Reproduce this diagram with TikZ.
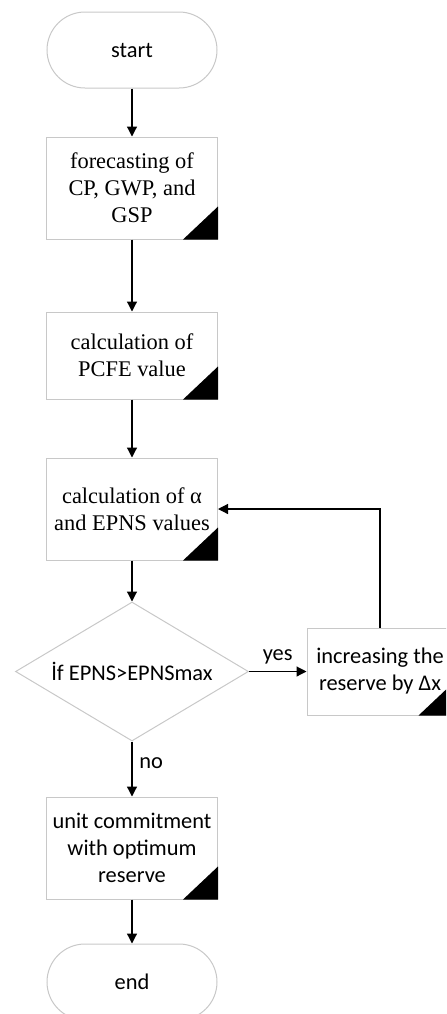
\documentclass[tikz,border=0pt]{standalone}
\usepackage{fontspec}
\setmainfont{Carlito}
\newfontfamily\serifbox{Liberation Serif}
\usepackage{tikz}
\usetikzlibrary{arrows.meta, shapes.geometric}
\definecolor{flow_edge}{RGB}{200, 200, 200}
\newcommand{\flowsans}{\fontsize{11.2}{13.5}\selectfont}
\newcommand{\flowserif}{\serifbox\fontsize{11.2}{13.5}\selectfont}

\begin{document}
\begin{tikzpicture}[x=0.5pt, y=-0.5pt,
    termbox/.style={draw=flow_edge, line width=0.5pt, rounded corners=19pt,
      minimum width=85pt, minimum height=38pt, inner sep=0pt, font=\flowsans},
    procbox/.style={draw=flow_edge, line width=0.5pt, minimum width=85.5pt,
      minimum height=51pt, inner sep=2pt, align=center, font=\flowserif},
    decision/.style={draw=flow_edge, line width=0.5pt, diamond, aspect=1.68,
      minimum width=116.5pt, minimum height=69.5pt, inner sep=0pt, font=\flowsans},
    flowarrow/.style={-{Triangle[length=5pt, width=5pt]}, line width=0.6pt, black}]
        \path[use as bounding box, clip] (0,0) rectangle (446,1014);

        % --- Main column ---
        \node[termbox] (start) at (132,50) {start};
        \node[procbox] (fore) at (132,188)
          {forecasting of\\CP, GWP, and\\GSP};
        \node[procbox, minimum height=43.5pt] (pcfe) at (132,355.5)
          {calculation of\\PCFE value};
        \node[procbox] (epns) at (132,509)
          {calculation of α\\and EPNS values};
        \node[decision] (check) at (132,671.5) {İf EPNS>EPNSmax};
        \node[procbox, font=\flowsans] (unit) at (132,848)
          {unit commitment\\with optimum\\reserve};
        \node[termbox] (end) at (132,982) {end};

        % --- Reserve loop ---
        \node[procbox, font=\flowsans, minimum width=73pt, minimum height=43.5pt]
          (incr) at (380,671.5) {increasing the\\reserve by Δx};

        % black corner marks
        \foreach \b in {fore,pcfe,epns,incr,unit} {
          \fill[black] (\b.south east) -- ++(-35,0) -- ++(35,-33) -- cycle;
        }

        % --- Arrows ---
        \draw[flowarrow] (start) -- (fore);
        \draw[flowarrow] (fore) -- (pcfe);
        \draw[flowarrow] (pcfe) -- (epns);
        \draw[flowarrow] (epns) -- (check);
        \draw[flowarrow] (check.east) -- (incr.west)
          node[midway, above, font=\flowsans] (yeslbl) {yes};
        \draw[flowarrow] (incr.north) |- (epns.east);
        \draw[flowarrow] (check.south) -- (unit.north)
          node[pos=0.4, right, font=\flowsans] (nolbl) {no};
        \draw[flowarrow] (unit) -- (end);
      \end{tikzpicture}
\end{document}
